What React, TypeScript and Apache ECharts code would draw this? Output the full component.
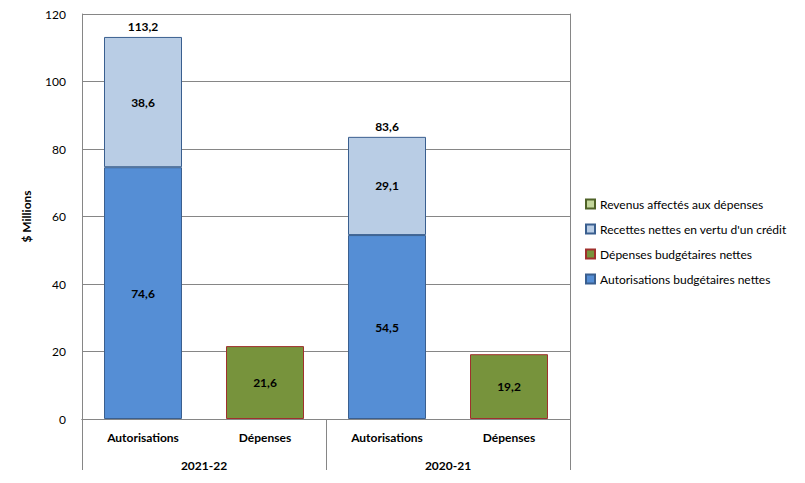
import React, { useEffect, useRef } from "react";
import * as echarts from "echarts";

const categories = ["Autorisations", "Dépenses", "Autorisations", "Dépenses"];
const groups = ["2021-22", "2020-21"];
const autorisations = [74.6, null, 54.5, null];
const recettes = [38.6, null, 29.1, null];
const depenses = [null, 21.6, null, 19.2];
const revenus = [null, null, null, null];
const totals = [113.2, null, 83.6, null];
const yTicks = { min: 0, max: 120, interval: 20 };

const FONT = "Lato";
const fmt = (v: number) => v.toFixed(1).replace(".", ",");

export default function App() {
  const ref = useRef<HTMLDivElement>(null);
  useEffect(() => {
    const chart = echarts.init(ref.current!, null, { renderer: "svg" });
    const lbl = {
      show: true,
      position: "inside",
      fontFamily: FONT,
      fontWeight: "bold",
      fontSize: 12,
      color: "#000",
      formatter: (p: any) => (p.value == null ? "" : fmt(p.value)),
    };
    chart.setOption({
      animation: false,
      textStyle: { fontFamily: FONT },
      grid: { left: 82, right: 235, top: 14, bottom: 64 },
      legend: {
        orient: "vertical",
        left: 580,
        top: 193,
        itemGap: 13,
        itemWidth: 9,
        itemHeight: 9,
        icon: "rect",
        textStyle: { fontFamily: FONT, fontSize: 12, color: "#000" },
        data: [
          "Revenus affectés aux dépenses",
          "Recettes nettes en vertu d'un crédit",
          "Dépenses budgétaires nettes",
          "Autorisations budgétaires nettes",
        ],
      },
      xAxis: [
        {
          type: "category",
          data: categories,
          position: "bottom",
          axisLine: { show: true, lineStyle: { color: "#868686" } },
          axisTick: { show: false },
          axisLabel: { margin: 12, fontFamily: FONT, fontWeight: "bold", fontSize: 12, color: "#000" },
        },
        {
          type: "category",
          data: groups,
          position: "bottom",
          axisLine: { show: true, lineStyle: { color: "#868686" } },
          axisTick: { show: true, length: 51, lineStyle: { color: "#868686" } },
          axisLabel: { margin: 40, fontFamily: FONT, fontWeight: "bold", fontSize: 12, color: "#000" },
        },
      ],
      yAxis: [
        {
          type: "value",
          ...yTicks,
          name: "$ Millions",
          nameLocation: "middle",
          nameGap: 50,
          nameRotate: 90,
          nameTextStyle: { fontFamily: FONT, fontWeight: "bold", fontSize: 12, color: "#000" },
          axisLine: { show: true, lineStyle: { color: "#868686" } },
          axisTick: { show: false },
          axisLabel: { margin: 16, fontFamily: FONT, fontSize: 12, color: "#000" },
          splitLine: { show: true, lineStyle: { color: "#868686" } },
        },
        {
          type: "value",
          ...yTicks,
          position: "right",
          axisLine: { show: true, lineStyle: { color: "#868686" } },
          axisTick: { show: false },
          axisLabel: { show: false },
          splitLine: { show: false },
        },
      ],
      series: [
        {
          name: "Autorisations budgétaires nettes",
          type: "bar",
          stack: "a",
          barWidth: 78,
          data: autorisations,
          itemStyle: { color: "#558ED5", borderColor: "#3A5F8F", borderWidth: 1 },
          label: lbl,
        },
        {
          name: "Recettes nettes en vertu d'un crédit",
          type: "bar",
          stack: "a",
          barWidth: 78,
          data: recettes,
          itemStyle: { color: "#B9CDE5", borderColor: "#3A5F8F", borderWidth: 1 },
          label: lbl,
        },
        {
          name: "Dépenses budgétaires nettes",
          type: "bar",
          stack: "a",
          barWidth: 78,
          data: depenses,
          itemStyle: { color: "#77933C", borderColor: "#A0302D", borderWidth: 1 },
          label: lbl,
        },
        {
          name: "Revenus affectés aux dépenses",
          type: "bar",
          stack: "a",
          barWidth: 78,
          data: revenus,
          itemStyle: { color: "#C3D69B", borderColor: "#4F6228", borderWidth: 1 },
        },
        {
          name: "Total",
          type: "bar",
          stack: "a",
          barWidth: 78,
          data: totals.map((t) => (t == null ? null : 0)),
          itemStyle: { color: "transparent" },
          label: {
            show: true,
            position: "top",
            distance: 4,
            fontFamily: FONT,
            fontWeight: "bold",
            fontSize: 12,
            color: "#000",
            formatter: (p: any) => (totals[p.dataIndex] == null ? "" : fmt(totals[p.dataIndex] as number)),
          },
        },
      ],
    });
    return () => chart.dispose();
  }, []);
  return <div ref={ref} style={{ position: "absolute", left: 0, top: 0, width: 805, height: 483 }} />;
}
